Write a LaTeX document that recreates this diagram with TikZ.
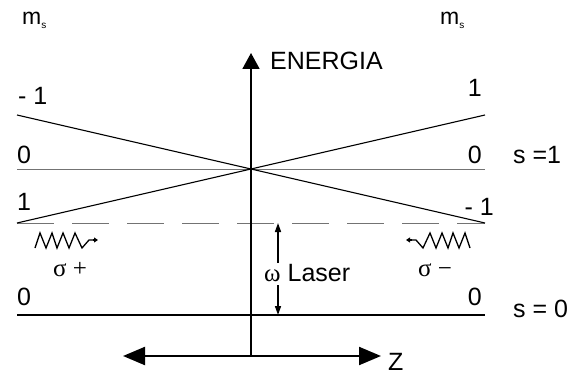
\documentclass[tikz,border=0pt]{standalone}
\usepackage{fontspec}
\setmainfont{Liberation Sans}
\newfontfamily\grk{Liberation Serif}
\usetikzlibrary{arrows.meta}
\begin{document}
\begin{tikzpicture}[x=1pt,y=-1pt,
  lbl/.style={inner sep=0pt,font=\fontsize{25}{28}\selectfont},
  thinline/.style={line width=1.1pt},
  grayline/.style={line width=1pt,draw=black!55},
  dashline/.style={line width=1pt,draw=black!55,dash pattern=on 37pt off 18pt},
  boldline/.style={line width=2.2pt},
  bigarrow/.style={line width=2.2pt,{Triangle[length=22pt,width=18pt]}-{Triangle[length=22pt,width=18pt]}},
  axisarrow/.style={line width=1.8pt,-{Triangle[length=16pt,width=17pt]}},
  smallarrow/.style={line width=1.5pt,-{Triangle[length=9pt,width=6pt]}},
  wave/.style={line width=1.3pt,line join=miter}
]
\useasboundingbox (0,0) rectangle (585,374);

% coordinates
\coordinate (L1) at (17,115);
\coordinate (R1) at (485,115);
\coordinate (L0) at (17,169);
\coordinate (R0) at (485,169);
\coordinate (Lm) at (17,223);
\coordinate (Rm) at (485,223);
\coordinate (G0) at (17,315);
\coordinate (G1) at (485,315);
\coordinate (AxB) at (251,356);
\coordinate (AxT) at (251,53);
\coordinate (ZL) at (123,356);
\coordinate (ZR) at (381,356);
\coordinate (LaTop) at (278,223);
\coordinate (LaA) at (278,263);
\coordinate (LaB) at (278,285);
\coordinate (LaBot) at (278,315);

% lines
\draw[grayline] (L0) -- (R0);
\draw[dashline] (Lm) -- (Rm);
\draw[thinline] (L1) -- (Rm);
\draw[thinline] (Lm) -- (R1);
\draw[boldline] (G0) -- (G1);
\draw[axisarrow] (AxB) -- (AxT);
\draw[bigarrow] (ZL) -- (ZR);
\draw[smallarrow] (LaA) -- (LaTop);
\draw[smallarrow] (LaB) -- (LaBot);

% waves
\draw[wave] (35,248) -- (40,233) -- (46,248) -- (52,233) -- (57,248) -- (63,233) -- (69,248) -- (75,233) -- (82,248) -- (89,240) -- (96,240);
\draw[-{Triangle[length=4pt,width=5pt]},line width=1.2pt] (93,240) -- (98,240);
\draw[wave] (470,248) -- (465,233) -- (459,248) -- (453,233) -- (448,248) -- (442,233) -- (436,248) -- (430,233) -- (423,248) -- (416,240) -- (409,240);
\draw[-{Triangle[length=4pt,width=5pt]},line width=1.2pt] (412,240) -- (406,240);

% labels
\node[inner sep=0pt,anchor=base west] (msl) at (22,25) {{\fontsize{23}{26}\selectfont m}\raisebox{-4pt}{\fontsize{10}{10}\selectfont s}};
\node[inner sep=0pt,anchor=base west] (msr) at (440,25) {{\fontsize{23}{26}\selectfont m}\raisebox{-4pt}{\fontsize{10}{10}\selectfont s}};
\node[lbl,anchor=base west] (en) at (270,70) {ENERGIA};
\node[lbl,anchor=base west] (lm1) at (18,105) {- 1};
\node[lbl,anchor=base east] (rp1) at (482,97) {1};
\node[lbl,anchor=base west] (l0) at (17,163) {0};
\node[lbl,anchor=base east] (r0) at (482,163) {0};
\node[lbl,anchor=base west] (s1) at (513,163) {s =1};
\node[lbl,anchor=base west] (lp1) at (17,210) {1};
\node[lbl,anchor=base east] (rm1) at (494,215) {- 1};
\node[lbl,anchor=base west] (lg0) at (17,305) {0};
\node[lbl,anchor=base east] (rg0) at (482,305) {0};
\node[lbl,anchor=base west] (s0) at (513,317) {s = 0};
\node[lbl,anchor=base west] (z) at (388,370) {Z};
\node[lbl,anchor=base west] (las) at (264,281) {{\grk ω} Laser};
\node[lbl,anchor=base west] (sp) at (53,276) {\grk σ +};
\node[lbl,anchor=base west] (sm) at (418,276) {\grk σ −};
\end{tikzpicture}
\end{document}
